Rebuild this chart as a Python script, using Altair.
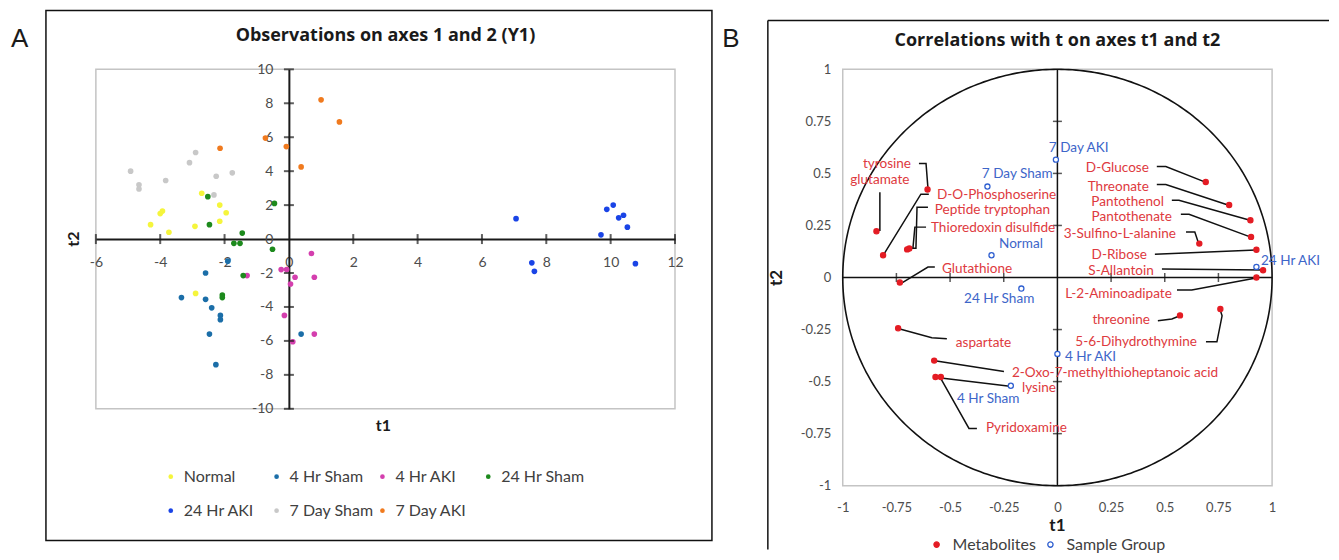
import altair as alt
import numpy as np
import pandas as pd

FONT = "Lato"
TFONT = "Open Sans"

# ---------------- Panel A data ----------------
groups_A = ["Normal", "4 Hr Sham", "4 Hr AKI", "24 Hr Sham", "24 Hr AKI", "7 Day Sham", "7 Day AKI"]
colors_A = ["#f5f53c", "#1b6ea8", "#d43fae", "#1d8a1d", "#1a44e6", "#c8c8c8", "#f07a1e"]

normal_t1 = [-2.71, -2.15, -1.95, -2.15, -2.92, -3.93, -4.0, -4.3, -3.73, -2.9]
normal_t2 = [2.7, 2.0, 1.55, 1.05, 0.75, 1.65, 1.5, 0.85, 0.4, -3.2]
sham4_t1 = [-1.9, -2.59, -3.34, -2.59, -2.4, -2.13, -2.13, -2.47, -2.27, 0.38]
sham4_t2 = [-1.3, -2.0, -3.45, -3.55, -4.05, -4.5, -4.75, -5.6, -7.4, -5.6]
aki4_t1 = [0.7, -0.24, -0.07, 0.19, 0.05, 0.79, -0.14, 0.79, 0.12, -1.3]
aki4_t2 = [-0.85, -1.8, -1.8, -2.25, -2.65, -2.25, -4.5, -5.6, -6.05, -2.15]
sham24_t1 = [-2.52, -2.47, -1.45, -1.71, -1.52, -0.51, -0.45, -1.42, -2.07, -2.07]
sham24_t2 = [2.5, 0.85, 0.35, -0.25, -0.25, -0.6, 2.1, -2.15, -3.3, -3.45]
aki24_t1 = [7.06, 7.55, 7.63, 9.7, 9.88, 10.08, 10.25, 10.4, 10.52, 10.77]
aki24_t2 = [1.2, -1.4, -1.9, 0.25, 1.75, 2.0, 1.25, 1.4, 0.7, -1.45]
sham7_t1 = [-4.92, -4.66, -4.66, -3.83, -3.09, -2.9, -2.26, -1.76, -2.33]
sham7_t2 = [4.0, 3.2, 2.95, 3.45, 4.5, 5.1, 3.7, 3.9, 2.6]
aki7_t1 = [1.0, 1.57, -0.73, -0.08, 0.38, -2.14]
aki7_t2 = [8.2, 6.9, 5.95, 5.45, 4.25, 5.35]

series_A = [
    ("Normal", normal_t1, normal_t2),
    ("4 Hr Sham", sham4_t1, sham4_t2),
    ("4 Hr AKI", aki4_t1, aki4_t2),
    ("24 Hr Sham", sham24_t1, sham24_t2),
    ("24 Hr AKI", aki24_t1, aki24_t2),
    ("7 Day Sham", sham7_t1, sham7_t2),
    ("7 Day AKI", aki7_t1, aki7_t2),
]

axis_x_A = [-6, -4, -2, 0, 2, 4, 6, 8, 10, 12]
axis_y_A = [-10, -8, -6, -4, -2, 0, 2, 4, 6, 8, 10]
cross_x_A = [-6, -4, -2, 2, 4, 6, 8, 10, 12]
cross_y_A = [-10, -8, -6, -4, -2, 2, 4, 6, 8, 10]

# ---------------- Panel B data ----------------
metab_names = ["tyrosine", "glutamate", "D-O-Phosphoserine", "Peptide tryptophan", "Thioredoxin disulfide",
               "Glutathione", "D-Glucose", "Threonate", "Pantothenol", "Pantothenate", "3-Sulfino-L-alanine",
               "D-Ribose", "S-Allantoin", "L-2-Aminoadipate", "threonine", "5-6-Dihydrothymine", "aspartate",
               "2-Oxo-7-methylthioheptanoic acid", "lysine", "Pyridoxamine"]
metab_t1 = [-0.605, -0.843, -0.812, -0.69, -0.70, -0.734, 0.691, 0.80, 0.899, 0.902, 0.661,
            0.927, 0.958, 0.927, 0.571, 0.759, -0.742, -0.574, -0.568, -0.543]
metab_t2 = [0.423, 0.222, 0.107, 0.139, 0.135, -0.024, 0.459, 0.348, 0.275, 0.195, 0.163,
            0.133, 0.035, 0.0, -0.182, -0.151, -0.244, -0.399, -0.478, -0.478]

sample_names = ["7 Day AKI", "7 Day Sham", "Normal", "24 Hr Sham", "24 Hr AKI", "4 Hr AKI", "4 Hr Sham"]
sample_t1 = [-0.007, -0.326, -0.307, -0.168, 0.927, 0.0, -0.217]
sample_t2 = [0.566, 0.437, 0.107, -0.053, 0.051, -0.367, -0.52]

# label anchors (text, t1, t2)
red_left_txt = ["D-O-Phosphoserine", "Peptide tryptophan", "Thioredoxin disulfide", "Glutathione",
                "aspartate", "2-Oxo-7-methylthioheptanoic acid", "lysine", "Pyridoxamine"]
red_left_x = [-0.561, -0.571, -0.589, -0.538, -0.473, -0.212, -0.165, -0.333]
red_left_y = [0.395, 0.323, 0.240, 0.041, -0.313, -0.461, -0.533, -0.725]
red_right_txt = ["D-Glucose", "Threonate", "Pantothenol", "Pantothenate", "3-Sulfino-L-alanine",
                 "D-Ribose", "S-Allantoin", "L-2-Aminoadipate", "threonine", "5-6-Dihydrothymine"]
red_right_x = [0.426, 0.426, 0.496, 0.533, 0.552, 0.417, 0.449, 0.533, 0.431, 0.650]
red_right_y = [0.524, 0.433, 0.361, 0.289, 0.208, 0.108, 0.031, -0.079, -0.203, -0.309]
red_center_txt = ["tyrosine", "glutamate"]
red_center_x = [-0.794, -0.827]
red_center_y = [0.543, 0.466]
blue_left_txt = ["7 Day AKI", "7 Day Sham", "Normal", "24 Hr Sham", "24 Hr AKI", "4 Hr Sham", "4 Hr AKI"]
blue_left_x = [-0.040, -0.352, -0.272, -0.435, 0.948, -0.468, 0.035]
blue_left_y = [0.620, 0.495, 0.163, -0.103, 0.079, -0.586, -0.382]

# leader lines (polylines in t1/t2 units)
leaders = {
    "tyrosine": [(-0.645, 0.548), (-0.612, 0.548), (-0.603, 0.428)],
    "glutamate": [(-0.827, 0.409), (-0.827, 0.227), (-0.841, 0.227)],
    "D-O-Phosphoserine": [(-0.599, 0.400), (-0.636, 0.400), (-0.808, 0.112)],
    "Peptide tryptophan": [(-0.603, 0.337), (-0.654, 0.337), (-0.659, 0.141), (-0.687, 0.141)],
    "Thioredoxin disulfide": [(-0.612, 0.242), (-0.664, 0.242), (-0.673, 0.141)],
    "Glutathione": [(-0.571, 0.050), (-0.603, 0.050), (-0.724, -0.026)],
    "D-Glucose": [(0.463, 0.533), (0.505, 0.533), (0.692, 0.457)],
    "Threonate": [(0.463, 0.447), (0.505, 0.447), (0.798, 0.347)],
    "Pantothenol": [(0.533, 0.371), (0.566, 0.371), (0.897, 0.275)],
    "Pantothenate": [(0.575, 0.304), (0.613, 0.304), (0.901, 0.194)],
    "3-Sulfino-L-alanine": [(0.599, 0.218), (0.640, 0.218), (0.659, 0.160)],
    "D-Ribose": [(0.454, 0.112), (0.925, 0.132)],
    "S-Allantoin": [(0.487, 0.041), (0.958, 0.036)],
    "L-2-Aminoadipate": [(0.557, -0.060), (0.626, -0.060), (0.925, -0.002)],
    "threonine": [(0.468, -0.208), (0.533, -0.199), (0.571, -0.184)],
    "5-6-Dihydrothymine": [(0.692, -0.309), (0.743, -0.309), (0.767, -0.184), (0.757, -0.151)],
    "aspartate": [(-0.738, -0.246), (-0.585, -0.289), (-0.515, -0.294)],
    "2-Oxo": [(-0.571, -0.400), (-0.249, -0.452)],
    "lysine": [(-0.552, -0.481), (-0.212, -0.524)],
    "Pyridoxamine": [(-0.543, -0.486), (-0.412, -0.725), (-0.375, -0.725)],
}

axis_B = [-1, -0.75, -0.5, -0.25, 0, 0.25, 0.5, 0.75, 1]
cross_B = [-0.75, -0.5, -0.25, 0.25, 0.5, 0.75]

RED = "#e41c24"
RED_TXT = "#de3a40"
BLUE = "#2f5fd0"
BLUE_TXT = "#3d66c9"
AX = "#1a1a1a"
LBL = "#4d4d4d"

# ---------------- build panel A ----------------
rows = []
for g, xs, ys in series_A:
    for a, b in zip(xs, ys):
        rows.append({"group": g, "t1": a, "t2": b})
dfA = pd.DataFrame(rows)

one = pd.DataFrame({"label": [""]})

def txt(label, x, y, size, weight="normal", color=AX, align="center", angle=0, font=FONT):
    props = dict(font=font, fontSize=size, fontWeight=weight, color=color, align=align, baseline="middle")
    if angle:
        props["angle"] = angle
    return alt.Chart(pd.DataFrame({"label": [label]})).mark_text(**props).encode(
        x=alt.value(x), y=alt.value(y), text="label:N")

WA, HA = 580, 340
xsA = alt.Scale(domain=[-6, 12], nice=False, zero=False)
ysA = alt.Scale(domain=[-10, 10], nice=False, zero=False)

axA_x = alt.Axis(values=axis_x_A, offset=-170, domainColor=AX, domainWidth=2, ticks=False,
                 labelPadding=16, labelFontSize=14, labelColor=LBL, labelFont=FONT, grid=False,
                 title=None, labelFlush=False, labelOverlap=False, labelExpr="'' + datum.value")
axA_y = alt.Axis(values=axis_y_A, offset=-193.3, domainColor=AX, domainWidth=2, ticks=False,
                 labelPadding=16, labelFontSize=14, labelColor=LBL, labelFont=FONT, grid=False,
                 title=None, labelFlush=False, labelOverlap=False, labelExpr="'' + datum.value")

legA = alt.Legend(title=None, orient="none", legendX=67, legendY=400, direction="horizontal",
                  columns=4, gridAlign="all", symbolType="circle", symbolSize=22,
                  labelFont=FONT, labelFontSize=16, labelColor="#404040", columnPadding=0,
                  rowPadding=18, labelOffset=5, padding=0)

borderA = alt.Chart(one).mark_rect(fill="white", fillOpacity=0, stroke="#111111", strokeWidth=1.5).encode(
    x=alt.value(-50), x2=alt.value(617), y=alt.value(-59), y2=alt.value(472))

pointsA = alt.Chart(dfA).mark_circle(size=32, opacity=1).encode(
    x=alt.X("t1:Q", scale=xsA, axis=axA_x),
    y=alt.Y("t2:Q", scale=ysA, axis=axA_y),
    color=alt.Color("group:N", scale=alt.Scale(domain=groups_A, range=colors_A), sort=groups_A, legend=legA),
)

ticksAx = alt.Chart(pd.DataFrame({"t1": cross_x_A, "t2": [0] * len(cross_x_A)})).mark_tick(
    orient="vertical", size=10, thickness=2, color=AX).encode(
    x=alt.X("t1:Q", scale=xsA, axis=axA_x), y=alt.Y("t2:Q", scale=ysA, axis=axA_y))
ticksAy = alt.Chart(pd.DataFrame({"t1": [0] * len(cross_y_A), "t2": cross_y_A})).mark_tick(
    orient="horizontal", size=10, thickness=2, color=AX).encode(
    x=alt.X("t1:Q", scale=xsA, axis=axA_x), y=alt.Y("t2:Q", scale=ysA, axis=axA_y))

panelA = alt.layer(
    pointsA,
    borderA,
    ticksAx, ticksAy,
    txt("A", -85, -30, 26, font="Liberation Sans", align="left"),
    txt("Observations on axes 1 and 2 (Y1)", 290, -33, 18, weight="bold", font=TFONT),
    txt("t1", 288, 357, 16, weight="bold"),
    txt("t2", -22, 170, 16, weight="bold", angle=270),
).properties(width=WA, height=HA)

# ---------------- build panel B ----------------
WB, HB = 430, 417
xsB = alt.Scale(domain=[-1, 1], nice=False, zero=False)
ysB = alt.Scale(domain=[-1, 1], nice=False, zero=False)

axB_x = alt.Axis(values=axis_B, domain=False, ticks=False, labelPadding=16, labelFontSize=13,
                 labelColor=LBL, labelFont=FONT, grid=False, title=None, labelFlush=False,
                 labelOverlap=False, labelExpr="'' + datum.value")
axB_y = alt.Axis(values=axis_B, domain=False, ticks=False, labelPadding=12, labelFontSize=13,
                 labelColor=LBL, labelFont=FONT, grid=False, title=None, labelFlush=False,
                 labelOverlap=False, labelExpr="'' + datum.value")

def XB(f):
    return alt.X(f, scale=xsB, axis=axB_x)

def YB(f):
    return alt.Y(f, scale=ysB, axis=axB_y)

theta = np.linspace(0, 2 * np.pi, 361)
circle = pd.DataFrame({"i": np.arange(len(theta)), "t1": np.cos(theta), "t2": np.sin(theta)})

lead_rows = []
for name, pts in leaders.items():
    for k, (a, b) in enumerate(pts):
        lead_rows.append({"id": name, "k": k, "t1": a, "t2": b})
dfLead = pd.DataFrame(lead_rows)

dfB = pd.DataFrame({
    "t1": metab_t1 + sample_t1,
    "t2": metab_t2 + sample_t2,
    "name": metab_names + sample_names,
    "kind": ["Metabolites"] * len(metab_t1) + ["Sample Group"] * len(sample_t1),
})

legB = alt.Legend(title=None, orient="none", legendX=86, legendY=468, direction="horizontal",
                  symbolSize=28, symbolStrokeWidth=1.3, labelFont=FONT, labelFontSize=16,
                  labelColor="#404040", columnPadding=6, labelOffset=8, padding=0)

borderB_top = alt.Chart(one).mark_rule(color="#111111", strokeWidth=1.5).encode(
    x=alt.value(-75), x2=alt.value(487), y=alt.value(-49))
borderB_left = alt.Chart(one).mark_rule(color="#111111", strokeWidth=1.5).encode(
    x=alt.value(-75), y=alt.value(-49), y2=alt.value(481))

circ = alt.Chart(circle).mark_line(color="#111111", strokeWidth=1.6).encode(
    x=XB("t1:Q"), y=YB("t2:Q"), order="i:Q")

center = alt.Chart(pd.DataFrame({"t1": [-1, 0], "x2": [1, 0], "t2": [0, -1], "y2": [0, 1]})).mark_rule(
    color="#111111", strokeWidth=1.5).encode(
    x=XB("t1:Q"), x2="x2:Q", y=YB("t2:Q"), y2="y2:Q")

ticksBx = alt.Chart(pd.DataFrame({"t1": cross_B, "t2": [0] * len(cross_B)})).mark_tick(
    orient="vertical", size=9, thickness=1.5, color="#111111").encode(x=XB("t1:Q"), y=YB("t2:Q"))
ticksBy = alt.Chart(pd.DataFrame({"t1": [0] * len(cross_B), "t2": cross_B})).mark_tick(
    orient="horizontal", size=9, thickness=1.5, color="#111111").encode(x=XB("t1:Q"), y=YB("t2:Q"))

lead = alt.Chart(dfLead).mark_line(color="#111111", strokeWidth=1.5).encode(
    x=XB("t1:Q"), y=YB("t2:Q"), detail="id:N", order="k:Q")

pointsB = alt.Chart(dfB).mark_point(size=26, strokeWidth=1.3, opacity=1).encode(
    x=XB("t1:Q"), y=YB("t2:Q"),
    color=alt.Color("kind:N", scale=alt.Scale(domain=["Metabolites", "Sample Group"], range=[RED, BLUE]),
                    legend=legB),
    fill=alt.Fill("kind:N", scale=alt.Scale(domain=["Metabolites", "Sample Group"], range=[RED, "white"]),
                  legend=legB),
)

def label_layer(texts, xs, ys, color, align):
    d = pd.DataFrame({"label": texts, "t1": xs, "t2": ys})
    return alt.Chart(d).mark_text(font=FONT, fontSize=13.6, color=color, align=align, baseline="middle").encode(
        x=XB("t1:Q"), y=YB("t2:Q"), text="label:N")

panelB = alt.layer(
    circ,
    borderB_top, borderB_left,
    center, ticksBx, ticksBy, lead,
    label_layer(red_left_txt, red_left_x, red_left_y, RED_TXT, "left"),
    label_layer(red_right_txt, red_right_x, red_right_y, RED_TXT, "right"),
    label_layer(red_center_txt, red_center_x, red_center_y, RED_TXT, "center"),
    label_layer(blue_left_txt, blue_left_x, blue_left_y, BLUE_TXT, "left"),
    pointsB,
    txt("B", -112, -30, 26, font="Liberation Sans"),
    txt("Correlations with t on axes t1 and t2", 215, -28, 18, weight="bold", font=TFONT),
    txt("t1", 215, 457, 17, weight="bold"),
    txt("t2", -66, 209, 17, weight="bold", angle=270),
).properties(width=WB, height=HB)

chart = alt.hconcat(panelA, panelB, spacing=168, bounds="flush").resolve_scale(
    x="independent", y="independent", color="independent", fill="independent"
).resolve_legend(color="independent", fill="independent").properties(
    padding={"left": 2, "top": 0, "right": 0, "bottom": 0}
).configure_view(stroke="#c4c4c4", strokeWidth=1.5).configure_axis(grid=False)

chart.save("out.html", embed_options={"renderer": "svg", "actions": False})
